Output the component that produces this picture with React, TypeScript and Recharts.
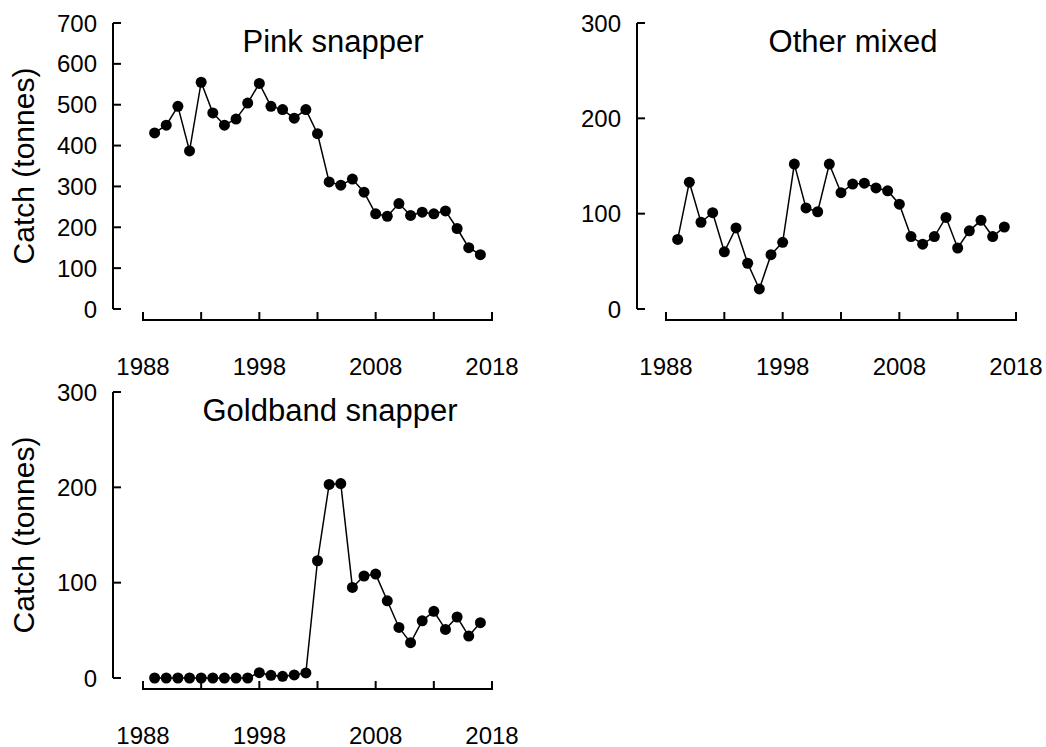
import React from "react";
import { LineChart, Line, XAxis, YAxis, ReferenceLine } from "recharts";

// catch per year
const years = [
  1989, 1990, 1991, 1992, 1993, 1994, 1995, 1996, 1997, 1998, 1999, 2000, 2001, 2002, 2003,
  2004, 2005, 2006, 2007, 2008, 2009, 2010, 2011, 2012, 2013, 2014, 2015, 2016, 2017,
];
const pinkSnapper = [
  431, 450, 496, 387, 555, 480, 450, 465, 504, 552, 496, 488, 467, 488, 429,
  311, 303, 318, 286, 233, 227, 258, 229, 237, 233, 240, 197, 150, 133,
];
const otherMixed = [
  73, 133, 91, 101, 60, 85, 48, 21, 57, 70, 152, 106, 102, 152, 122,
  131, 132, 127, 124, 110, 76, 68, 76, 96, 64, 82, 93, 76, 86,
];
const goldbandSnapper = [
  0, 0, 0, 0, 0, 0, 0, 0, 0, 5.6, 2.8, 1.8, 3.2, 5.3, 123,
  203, 204, 95, 107, 109, 81, 53, 37, 60, 70, 51, 64, 44, 58,
];

const xTicks = [1988, 1993, 1998, 2003, 2008, 2013, 2018];
const xLabels = [1988, 1998, 2008, 2018];
const pinkTicks = [0, 100, 200, 300, 400, 500, 600, 700];
const otherTicks = [0, 100, 200, 300];
const goldTicks = [0, 100, 200, 300];

const FONT = '"Liberation Sans", Arial, sans-serif';
const AXIS_GAP = 11; // x axis line sits a little below the y=0 level
const PLOT_TOP = 23;
const PLOT_BOTTOM = 309;
const PLOT_RIGHT = 492;
const Y_AXIS_W = 113;

function YTick({ x, y, payload }: any) {
  return (
    <g>
      <line x1={x} x2={x + 8} y1={y} y2={y} stroke="#000" strokeWidth={2} />
      <text
        x={x - 16}
        y={y}
        textAnchor="end"
        dominantBaseline="central"
        fontSize={24}
        fontFamily={FONT}
        fill="#000"
      >
        {payload.value}
      </text>
    </g>
  );
}

function XTick({ x, y, payload }: any) {
  const ly = y + AXIS_GAP;
  return (
    <g>
      <line x1={x} x2={x} y1={ly} y2={ly - 8} stroke="#000" strokeWidth={2} />
      {xLabels.includes(payload.value) && (
        <text
          x={x}
          y={ly + 46}
          textAnchor="middle"
          dominantBaseline="central"
          fontSize={24}
          fontFamily={FONT}
          fill="#000"
        >
          {payload.value}
        </text>
      )}
    </g>
  );
}

function XAxisLine(p: any) {
  return (
    <line
      x1={p.x1 - 1}
      x2={p.x2 + 1}
      y1={p.y1 + AXIS_GAP}
      y2={p.y2 + AXIS_GAP}
      stroke="#000"
      strokeWidth={2}
    />
  );
}

interface PanelProps {
  title: string;
  values: number[];
  yTicks: number[];
  padLeft: number;
  titleX: number;
  yLabel?: boolean;
  left: number;
  top: number;
  width: number;
  height: number;
}

function Panel({ title, values, yTicks, padLeft, titleX, yLabel, left, top, width, height }: PanelProps) {
  const data = years.map((year, i) => ({ year, catch: values[i] }));
  const yMax = yTicks[yTicks.length - 1];
  return (
    <div style={{ position: "absolute", left, top }}>
      <LineChart
        width={width}
        height={height}
        data={data}
        margin={{ top: PLOT_TOP, right: width - PLOT_RIGHT, left: 0, bottom: 0 }}
      >
        <XAxis
          dataKey="year"
          type="number"
          domain={[1988, 2018]}
          ticks={xTicks}
          interval={0}
          padding={{ left: padLeft, right: 0 }}
          axisLine={false}
          tickLine={false}
          tickSize={0}
          tickMargin={0}
          tick={<XTick />}
          height={height - PLOT_BOTTOM}
        />
        <YAxis
          type="number"
          domain={[0, yMax]}
          ticks={yTicks}
          interval={0}
          width={Y_AXIS_W}
          axisLine={{ stroke: "#000", strokeWidth: 2 }}
          tickLine={false}
          tickSize={0}
          tickMargin={0}
          tick={<YTick />}
        />
        <ReferenceLine
          segment={[
            { x: 1988, y: 0 },
            { x: 2018, y: 0 },
          ]}
          shape={XAxisLine}
        />
        <Line
          dataKey="catch"
          type="linear"
          stroke="#000"
          strokeWidth={1.5}
          dot={{ r: 5.5, fill: "#000", stroke: "#000", strokeWidth: 0 }}
          isAnimationActive={false}
        />
        <text
          x={titleX}
          y={52}
          textAnchor="middle"
          fontSize={31}
          fontFamily={FONT}
          fill="#000"
        >
          {title}
        </text>
        {yLabel && (
          <text
            x={23}
            y={166}
            transform="rotate(-90 23 166)"
            textAnchor="middle"
            dominantBaseline="central"
            fontSize={30}
            fontFamily={FONT}
            fill="#000"
          >
            Catch (tonnes)
          </text>
        )}
      </LineChart>
    </div>
  );
}

export default function App() {
  return (
    <div
      style={{
        position: "absolute",
        left: 0,
        top: 0,
        width: 1046,
        height: 747,
        overflow: "hidden",
        background: "#fff",
      }}
    >
      <Panel
        title="Pink snapper"
        values={pinkSnapper}
        yTicks={pinkTicks}
        padLeft={30}
        titleX={333}
        yLabel
        left={0}
        top={0}
        width={530}
        height={380}
      />
      <Panel
        title="Other mixed"
        values={otherMixed}
        yTicks={otherTicks}
        padLeft={29}
        titleX={329}
        left={524}
        top={0}
        width={522}
        height={380}
      />
      <Panel
        title="Goldband snapper"
        values={goldbandSnapper}
        yTicks={goldTicks}
        padLeft={30}
        titleX={330}
        yLabel
        left={0}
        top={369}
        width={530}
        height={378}
      />
    </div>
  );
}
